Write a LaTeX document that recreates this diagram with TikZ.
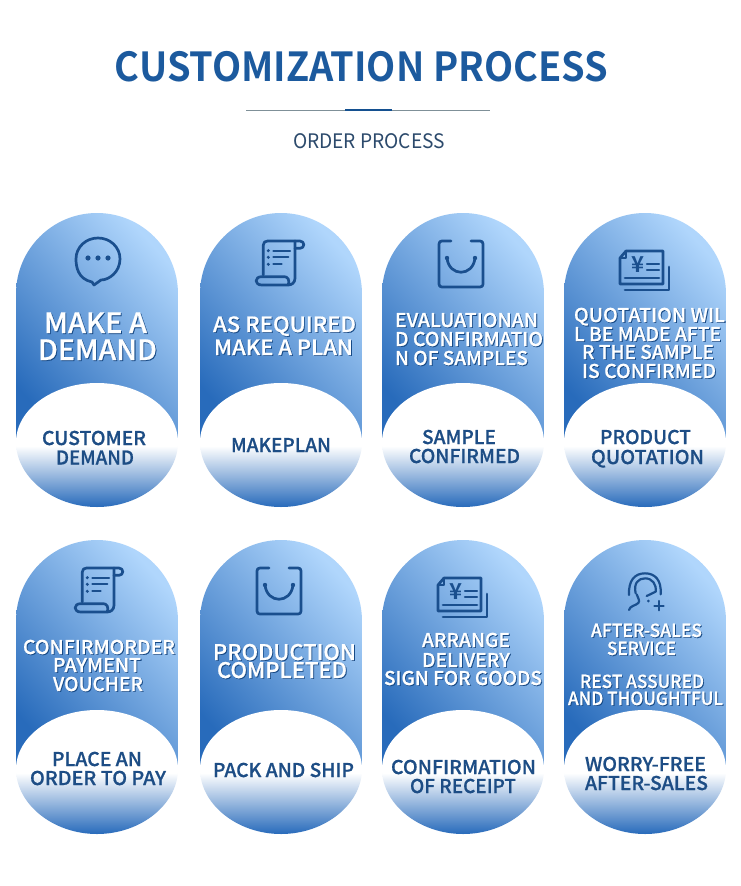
\documentclass[tikz,border=0pt]{standalone}
\usepackage{fontspec}
\usepackage{graphicx}
\setmainfont{Noto Sans CJK SC}[BoldFont={Noto Sans CJK SC Medium},BoldFeatures={FakeBold=0.7}]
\newfontfamily\titlefont{Noto Sans CJK SC Bold}
\definecolor{titleblue}{HTML}{1C5A9E}
\definecolor{subgrey}{HTML}{2C4A6C}
\definecolor{ruleg}{HTML}{7F9098}
\definecolor{ruleb}{HTML}{145090}
\definecolor{iconblue}{HTML}{1A4F8E}
\definecolor{lowtext}{HTML}{1D4D85}
\definecolor{shadowb}{HTML}{174A86}
\definecolor{capdark}{HTML}{286BBB}
\definecolor{capmid}{HTML}{6098DC}
\definecolor{caplight}{HTML}{B0D6FC}
\definecolor{lowmid}{HTML}{86ADDD}
\definecolor{lowdark}{HTML}{2468BA}
\newcommand\fitw[3]{\setbox0\hbox{\fontsize{#2}{#2}\selectfont\bfseries #3}\pgfmathsetmacro\fx{#1/\the\wd0}\scalebox{\fx}[1]{\box0}}
\newcommand\capsulepath{(0,81) .. controls (0,36.3) and (36.3,0) .. (81,0) .. controls (125.7,0) and (162,36.3) .. (162,81) -- (162,233) -- (0,233) -- cycle}
\newcommand\domepath{(0,229) .. controls (0,196.4) and (37,170) .. (81,170) .. controls (125,170) and (162,196.4) .. (162,229) .. controls (162,264) and (125,294) .. (81,294) .. controls (37,294) and (0,264) .. (0,229) -- cycle}
\tikzset{
  txt/.style={inner sep=0pt,outer sep=0pt,anchor=base},
  icon/.style={draw=iconblue,line width=2.7pt,line cap=round,line join=round},
  iconthin/.style={draw=iconblue,line width=2.2pt,line cap=round,line join=round}
}
\newcommand\scrollicon[2]{%
 \begin{scope}[shift={(#1,#2)},x=0.3333pt,y=-0.3333pt]
  \path[icon] (55,135) -- (55,45) .. controls (55,37) and (60,33) .. (68,33) -- (165,33) .. controls (180,33) and (180,55) .. (165,55) -- (150,55);
  \path[icon] (150,33) .. controls (150,40) and (150,45) .. (150,55) -- (150,145) .. controls (150,158) and (140,165) .. (130,165) -- (50,165) .. controls (28,165) and (28,140) .. (50,140) -- (118,140) .. controls (128,140) and (135,150) .. (130,165);
  \path[iconthin] (85,62) -- (135,62) (85,82) -- (130,82) (85,103) -- (110,103);
  \fill[iconblue] (70,62) circle[radius=1.7pt] (70,82) circle[radius=1.7pt] (70,103) circle[radius=1.7pt];
 \end{scope}}
\newcommand\bagicon[2]{%
 \begin{scope}[shift={(#1,#2)}]
  \path[icon] (12,0) -- (3,0) .. controls (1,0) and (0,1) .. (0,3) -- (0,43) .. controls (0,45) and (1,46) .. (3,46) -- (41,46) .. controls (43,46) and (44,45) .. (44,43) -- (44,3) .. controls (44,1) and (43,0) .. (41,0) -- (32,0);
  \path[icon] (8,17) .. controls (10,36) and (34,36) .. (36,17);
  \fill[iconblue] (8,17) circle[radius=2.2pt] (36,17) circle[radius=2.2pt];
 \end{scope}}
\newcommand\billicon[2]{%
 \begin{scope}[shift={(#1,#2)}]
  \path[icon] (6,0) -- (43,0) -- (43,33) -- (0,33) -- (0,7) -- cycle;
  \path[iconthin] (6,0) -- (6,7) -- (0,7);
  \path[icon] (49,16) -- (49,39) -- (5,39);
  \path[icon] (5,27) -- (39,27);
  \node[txt,font=\fontsize{22}{22}\titlefont,text=iconblue] (yen#1) at (17.5,21.5) {¥};
  \path[iconthin] (27,13) -- (39,13) (27,19) -- (39,19);
 \end{scope}}
\begin{document}
\begin{tikzpicture}[x=1pt,y=-1pt]
\useasboundingbox (0,0) rectangle (740,886);
\fill[white] (0,0) rectangle (740,886);
% header
\node[txt,text=titleblue] (title) at (361.5,81) {\setbox0\hbox{\fontsize{40}{40}\titlefont CUSTOMIZATION PROCESS}\pgfmathsetmacro\fx{493/\the\wd0}\scalebox{\fx}[1]{\box0}};
\draw[ruleg,line width=1pt] (246,110.5) -- (490,110.5);
\draw[ruleb,line width=2pt] (345,110) -- (392,110);
\node[txt,text=subgrey] (sub) at (369,148) {\setbox0\hbox{\fontsize{20}{20}\selectfont ORDER PROCESS}\pgfmathsetmacro\fx{152/\the\wd0}\scalebox{\fx}[1]{\box0}};
% capsules
\foreach \cx/\cy in {16/213,200/213,382/213,564/213,16/540,200/540,382/540,564/540}{
 \begin{scope}[shift={(\cx,\cy)}]
  \begin{scope}
   \clip \capsulepath;
   \shade[bottom color=capdark,middle color=capmid,top color=caplight,shading angle=-48] (0,0) rectangle (162,233);
  \end{scope}
  \fill[white] \domepath;
  \begin{scope}
   \clip \domepath;
   \shade[top color=white,middle color=lowmid,bottom color=lowdark] (0,233) rectangle (162,295);
  \end{scope}
 \end{scope}
}
% icons
\begin{scope}[shift={(98,259)}]
 \path[icon] (-6,23) .. controls (-20,20) and (-22,8) .. (-22,0) .. controls (-22,-12) and (-12,-21) .. (0,-21) .. controls (12,-21) and (22,-12) .. (22,0) .. controls (22,13) and (11,21) .. (3,21) -- (-4,26) -- cycle;
 \fill[iconblue] (-10,-1) circle[radius=2.6pt] (0,-1) circle[radius=2.6pt] (10,-1) circle[radius=2.6pt];
\end{scope}
\scrollicon{245}{230}
\scrollicon{64}{557}
\bagicon{439}{241}
\bagicon{257}{568}
\billicon{620}{251}
\billicon{438}{578}
\begin{scope}[shift={(615,565)},x=0.3333pt,y=-0.3333pt]
 \path[iconthin] (42,90) .. controls (40,45) and (60,25) .. (90,25) .. controls (120,25) and (140,45) .. (137,88);
 \path[iconthin] (62,85) .. controls (55,55) and (70,40) .. (90,40) .. controls (112,40) and (125,58) .. (122,80) -- (95,93);
 \path[iconthin] (65,88) .. controls (70,100) and (75,108) .. (70,114) .. controls (62,122) and (45,122) .. (42,135);
 \path[iconthin] (132,108) -- (132,136) (118,122) -- (146,122);
 \fill[iconblue] (100,108) circle[radius=1.5pt];
\end{scope}
% white labels
\foreach \xa/\xb/\base/\fs/\tx in {
 44/147/333/28/MAKE A, 38/157/360/28/DEMAND,
 213/356/332/21/AS REQUIRED, 214/353/355/21/MAKE A PLAN,
 395/538/327/19/EVALUATIONAN, 395/543/346/19/D CONFIRMATIO, 395/528/365/19/N OF SAMPLES,
 574/725/322/19/QUOTATION WIL, 574/721/341/19/L BE MADE AFTE, 582/714/359/19/R THE SAMPLE, 582/716/378/19/IS CONFIRMED,
 23/175/654/19/CONFIRMORDER, 53/141/672/19/PAYMENT, 53/143/691/19/VOUCHER,
 213/356/660/21.5/PRODUCTION, 217/347/678/21.5/COMPLETED,
 422/510/647/19/ARRANGE, 422/510/667/19/DELIVERY, 384/542/685/19/SIGN FOR GOODS,
 591/702/637/18/AFTER-SALES, 607/676/655/18/SERVICE, 580/704/688/18/REST ASSURED, 568/723/705/18/AND THOUGHTFUL}{
 \pgfmathsetmacro\mx{(\xa+\xb)/2}
 \pgfmathsetmacro\wx{\xb-\xa}
 \node[txt,text=shadowb] (s\xa-\base) at (\mx+0.9,\base+0.9) {\fitw{\wx}{\fs}{\tx}};
 \node[txt,text=white] (w\xa-\base) at (\mx,\base) {\fitw{\wx}{\fs}{\tx}};
}
% dark labels
\foreach \xa/\xb/\base/\fs/\tx in {
 42/146/445/19/CUSTOMER, 56/134/464.5/19/DEMAND,
 231/331/452/19/MAKEPLAN,
 422/496/444/19/SAMPLE, 409/520/463/19/CONFIRMED,
 600/691/444/19/PRODUCT, 591/704/464/19/QUOTATION,
 52/142/766/19/PLACE AN, 30/166/785/19/ORDER TO PAY,
 213/354/777/19/PACK AND SHIP,
 391/536/774/19/CONFIRMATION, 410/516/793/19/OF RECEIPT,
 585/706/771/19/WORRY-FREE, 585/708/790/19/AFTER-SALES}{
 \pgfmathsetmacro\mx{(\xa+\xb)/2}
 \pgfmathsetmacro\wx{\xb-\xa}
 \node[txt,text=lowtext] (d\xa-\base) at (\mx,\base) {\fitw{\wx}{\fs}{\tx}};
}
\end{tikzpicture}
\end{document}
